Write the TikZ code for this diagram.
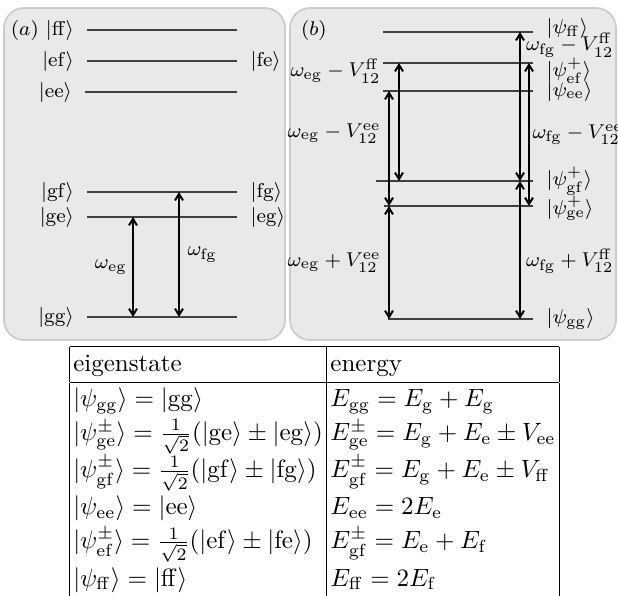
\documentclass[tikz,border=0pt]{standalone}
\usepackage{amsmath}
\usetikzlibrary{arrows.meta}
\newcommand{\kt}[1]{|#1\rangle}

\begin{document}
\begin{tikzpicture}[x=0.4pt, y=-0.4pt, panel/.style={rounded corners=8pt, fill=gray!17, draw=gray!40, line width=0.7pt}, level/.style={line width=0.9pt, black!75}, trans/.style={{Straight Barb[length=2.6pt,width=3.2pt]}-{Straight Barb[length=2.6pt,width=3.2pt]}, line width=0.8pt}, lab/.style={font=\footnotesize, text=black, inner sep=1pt}]
\useasboundingbox (0,0) rectangle (618,595);

\draw[panel] (4,8) rectangle (285,340); \draw[panel] (290,8) rectangle (616,340);

% (a) uncoupled states
\draw[level] (87,30) coordinate (FF) -- (237,30);
\draw[level] (87,61) coordinate (EF) -- (237,61) node[lab, right=4pt] (fe) {$\kt{\mathrm{fe}}$};
\draw[level] (85,92) coordinate (EE) -- (237,92);
\draw[level] (87,192) coordinate (GF) -- (237,192) node[lab, right=4pt] (fg) {$\kt{\mathrm{fg}}$};
\draw[level] (87,217) coordinate (GE) -- (237,217) node[lab, right=4pt] (eg) {$\kt{\mathrm{eg}}$};
\draw[level] (87,317) coordinate (GG) -- (237,317);
\node[lab, left=4pt] (ff) at (FF) {$(a)\ \kt{\mathrm{ff}}$}; \node[lab, left=4pt] (ef) at (EF) {$\kt{\mathrm{ef}}$};
\node[lab, left=4pt] (ee) at (EE) {$\kt{\mathrm{ee}}$}; \node[lab, left=4pt] (gf) at (GF) {$\kt{\mathrm{gf}}$};
\node[lab, left=4pt] (ge) at (GE) {$\kt{\mathrm{ge}}$}; \node[lab, left=4pt] (gg) at (GG) {$\kt{\mathrm{gg}}$};
\coordinate (XA) at (133,0); \coordinate (XB) at (179,0);
\draw[trans] (XA |- GE) -- node[lab, left=1pt] {$\omega_{\mathrm{eg}}$} (XA |- GG);
\draw[trans] (XB |- GF) -- node[lab, right=2pt] {$\omega_{\mathrm{fg}}$} (XB |- GG);

% (b) coupled states
\node[lab, anchor=west] (b) at (298,30) {$(b)$};
\draw[level] (383,32) coordinate (PFF) -- (533,32) node[lab, right=4pt, yshift=1.5pt] {$\kt{\psi_{\mathrm{ff}}}$};
\draw[level] (383,63) coordinate (PEF) -- (533,63) node[lab, right=4pt, yshift=-3pt] {$\kt{\psi^+_{\mathrm{ef}}}$};
\draw[level] (383,91) coordinate (PEE) -- (533,91) node[lab, right=4pt] {$\kt{\psi_{\mathrm{ee}}}$};
\draw[level] (376,181) coordinate (PGF) -- (533,181) node[lab, right=4pt] {$\kt{\psi^+_{\mathrm{gf}}}$};
\draw[level] (384,206) coordinate (PGE) -- (533,206) node[lab, right=4pt, yshift=-1pt] {$\kt{\psi^+_{\mathrm{ge}}}$};
\draw[level] (388,319) coordinate (PGG) -- (533,319) node[lab, right=4pt] {$\kt{\psi_{\mathrm{gg}}}$};
\coordinate (XC) at (389,0); \coordinate (XD) at (399,0); \coordinate (XE) at (520,0); \coordinate (XF) at (529,0);
\draw[trans] (XC |- PEE) -- node[lab, left=2pt, pos=0.37] {$\omega_{\mathrm{eg}}-V_{12}^{\mathrm{ee}}$} (XC |- PGE);
\draw[trans] (XC |- PGE) -- node[lab, left=2pt] {$\omega_{\mathrm{eg}}+V_{12}^{\mathrm{ee}}$} (XC |- PGG);
\draw[trans] (XD |- PEF) -- node[lab, left=6pt, pos=0.07] {$\omega_{\mathrm{eg}}-V_{12}^{\mathrm{ff}}$} (XD |- PGF);
\draw[trans] (XE |- PFF) -- node[lab, right=1pt, pos=0.09] {$\omega_{\mathrm{fg}}-V_{12}^{\mathrm{ff}}$} (XE |- PGF);
\draw[trans] (XE |- PGF) -- node[lab, right=1pt, pos=0.58] {$\omega_{\mathrm{fg}}+V_{12}^{\mathrm{ff}}$} (XE |- PGG);
\draw[trans] (XF |- PEF) -- node[lab, right=0pt, pos=0.5] {$\omega_{\mathrm{fg}}-V_{12}^{\mathrm{ee}}$} (XF |- PGE);

% table of eigenstates
\setlength{\tabcolsep}{1.5pt}\renewcommand{\arraystretch}{1.13}
\node[anchor=north west, inner sep=0pt] (tab) at (69,345) {\begin{tabular}{|l|l|}\hline
\rule{0pt}{10pt}eigenstate & energy \\ \hline
$\kt{\psi_{\mathrm{gg}}} = \kt{\mathrm{gg}}$ & $E_{\mathrm{gg}} = E_{\mathrm{g}} + E_{\mathrm{g}}$ \\
$\kt{\psi^\pm_{\mathrm{ge}}} = \frac{1}{\sqrt{2}}(\kt{\mathrm{ge}} \pm \kt{\mathrm{eg}})$ & $E^\pm_{\mathrm{ge}} = E_{\mathrm{g}} + E_{\mathrm{e}} \pm V_{\mathrm{ee}}$ \\
$\kt{\psi^\pm_{\mathrm{gf}}} = \frac{1}{\sqrt{2}}(\kt{\mathrm{gf}} \pm \kt{\mathrm{fg}})$ & $E^\pm_{\mathrm{gf}} = E_{\mathrm{g}} + E_{\mathrm{e}} \pm V_{\mathrm{ff}}$ \\
$\kt{\psi_{\mathrm{ee}}} = \kt{\mathrm{ee}}$ & $E_{\mathrm{ee}} = 2E_{\mathrm{e}}$ \\
$\kt{\psi^\pm_{\mathrm{ef}}} = \frac{1}{\sqrt{2}}(\kt{\mathrm{ef}} \pm \kt{\mathrm{fe}})$ & $E^\pm_{\mathrm{gf}} = E_{\mathrm{e}} + E_{\mathrm{f}}$ \\
$\kt{\psi_{\mathrm{ff}}} = \kt{\mathrm{ff}}$ & $E_{\mathrm{ff}} = 2E_{\mathrm{f}}$ \\[10pt]
\end{tabular}};
\end{tikzpicture}
\end{document}
